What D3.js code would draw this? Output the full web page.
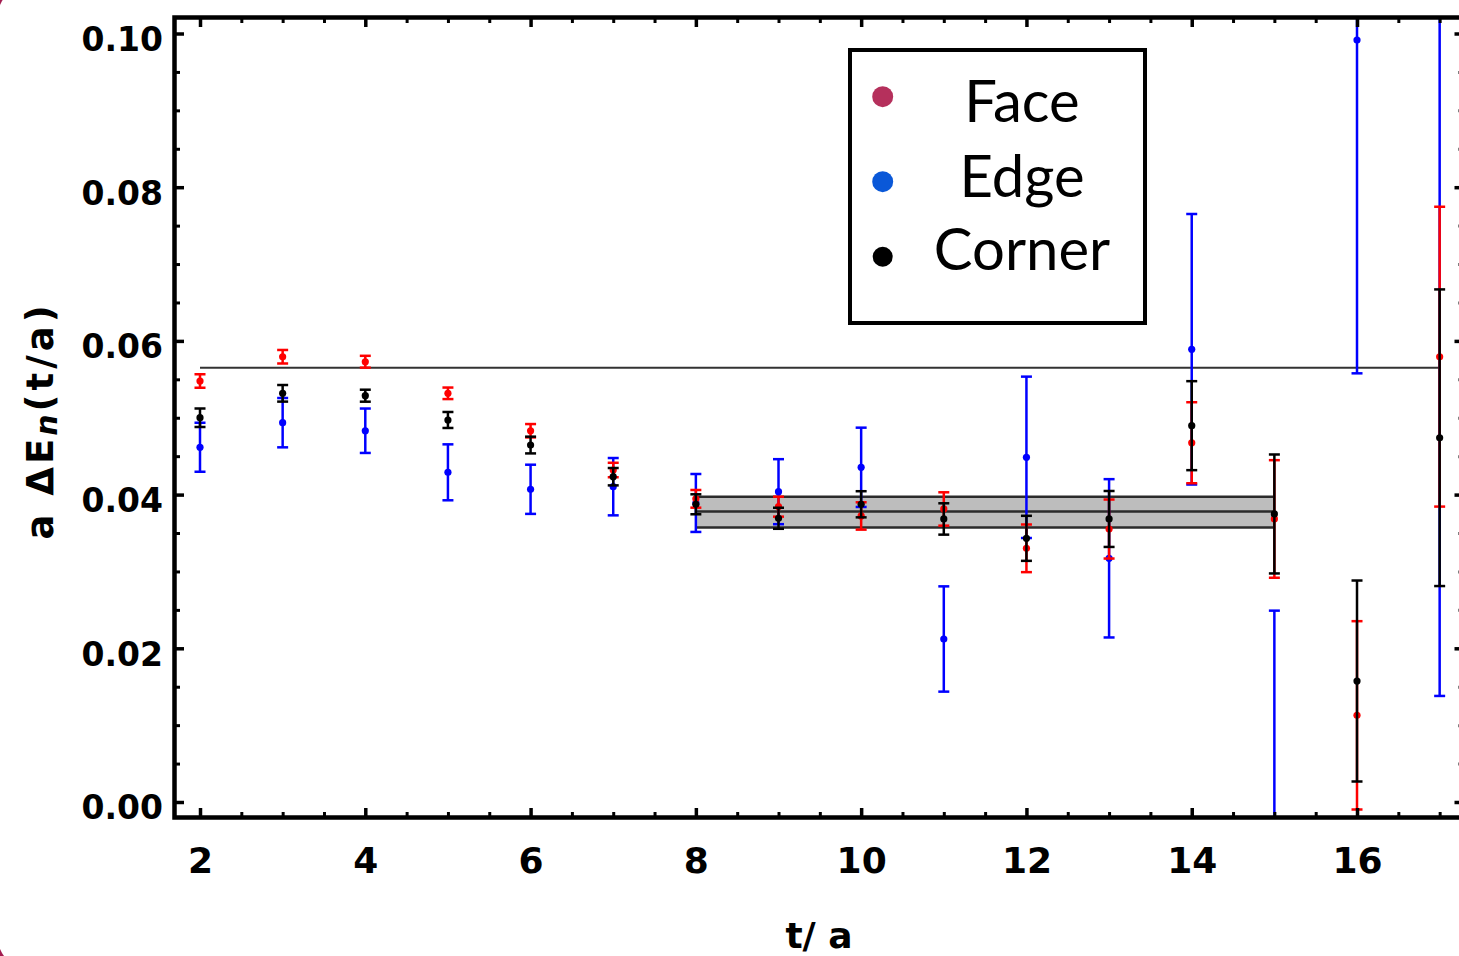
<!DOCTYPE html>
<html><head><meta charset="utf-8">
<script src="https://cdn.jsdelivr.net/npm/d3@7"></script>
<style>body{margin:0;background:#fff;} svg{display:block;}</style>
</head><body>
<svg id="c" width="1459" height="956"></svg>
<script>
// ---------- data ----------
const tValues = [2,3,4,5,6,7,8,9,10,11,12,13,14,15,16,17];
const faceValues  = [0.05478,0.05794,0.05729,0.05318,0.04831,0.0432,0.03945,0.03843,0.03722,0.03813,0.03301,0.03552,0.04675,0.03683,0.01128,0.05794];
const faceErrors  = [0.00087,0.00088,0.00077,0.00075,0.00087,0.00094,0.00115,0.0013,0.00178,0.00217,0.0031,0.00384,0.00527,0.00765,0.01225,0.0195];
const edgeValues  = [0.04616,0.04936,0.04831,0.0429,0.04069,0.04103,0.03891,0.04038,0.04355,0.02121,0.04485,0.03171,0.05891,-0.005,0.09915,0.105];
const edgeErrors  = [0.00319,0.00321,0.00289,0.00364,0.0032,0.00373,0.00377,0.00423,0.00516,0.00685,0.0105,0.0103,0.0176,0.0299,0.04337,0.0912];
const cornerValues = [0.05001,0.05318,0.05287,0.04971,0.04645,0.04233,0.03874,0.03692,0.03874,0.03683,0.03431,0.03683,0.04897,0.03748,0.01574,0.0474];
const cornerErrors = [0.0012,0.00108,0.00078,0.00104,0.00109,0.00113,0.0013,0.00137,0.0017,0.00204,0.00293,0.00364,0.00579,0.00774,0.01308,0.0193];
const plateauRange = [2, 17];
const plateauValue = 0.05651;
const fitRange = [8, 15];
const fitCentral = 0.03781, fitUpper = 0.03973, fitLower = 0.03573;
const xTickValues = [2,4,6,8,10,12,14,16];
const yTickValues = [0.00,0.02,0.04,0.06,0.08,0.10];
const legendLabels = ["Face","Edge","Corner"];
const legendColors = ["#b5305c","#0a58d8","#000000"];
const seriesColors = {face:"#ff0000", edge:"#0000ff", corner:"#000000"};

// ---------- layout ----------
const svg = d3.select("#c");
const L = 174.5, R = 1464, T = 17.5, B = 817.5;
const x = d3.scaleLinear().domain([1.6914, 17.2946]).range([L, R]);
const y = d3.scaleLinear().domain([-0.002017, 0.102082]).range([B, T]);

// slide background corners
svg.append("rect").attr("x",0).attr("y",0).attr("width",1459).attr("height",956).attr("fill","#a31d50");
svg.append("rect").attr("x",-2).attr("y",-14).attr("width",1520).attr("height",982).attr("rx",30).attr("fill","#fff");

svg.append("defs").append("clipPath").attr("id","clip")
  .append("rect").attr("x",L).attr("y",T).attr("width",R-L).attr("height",B-T);

const plot = svg.append("g").attr("clip-path","url(#clip)");

// fit band
plot.append("rect")
  .attr("x", x(fitRange[0])).attr("width", x(fitRange[1]) - x(fitRange[0]))
  .attr("y", y(fitUpper)).attr("height", y(fitLower) - y(fitUpper))
  .attr("fill","#bdbdbd");
[fitUpper, fitCentral, fitLower].forEach(v => {
  plot.append("line").attr("x1", x(fitRange[0])).attr("x2", x(fitRange[1]))
    .attr("y1", y(v)).attr("y2", y(v)).attr("stroke","#2b2b2b").attr("stroke-width",2.5);
});
// plateau line
plot.append("line").attr("x1", x(plateauRange[0])).attr("x2", x(plateauRange[1]))
  .attr("y1", y(plateauValue)).attr("y2", y(plateauValue)).attr("stroke","#333").attr("stroke-width",2);

// error bars
function drawSeries(vals, errs, color) {
  const data = tValues.map((t,i) => ({t, v: vals[i], e: errs[i]}));
  const g = plot.append("g");
  const cap = 5.5;
  const s = g.selectAll("g").data(data).enter().append("g");
  s.append("line").attr("x1", d => x(d.t)).attr("x2", d => x(d.t))
    .attr("y1", d => y(d.v + d.e)).attr("y2", d => y(d.v - d.e))
    .attr("stroke", color).attr("stroke-width", 2.5);
  s.append("line").attr("x1", d => x(d.t) - cap).attr("x2", d => x(d.t) + cap)
    .attr("y1", d => y(d.v + d.e)).attr("y2", d => y(d.v + d.e))
    .attr("stroke", color).attr("stroke-width", 2.5);
  s.append("line").attr("x1", d => x(d.t) - cap).attr("x2", d => x(d.t) + cap)
    .attr("y1", d => y(d.v - d.e)).attr("y2", d => y(d.v - d.e))
    .attr("stroke", color).attr("stroke-width", 2.5);
  s.append("circle").attr("cx", d => x(d.t)).attr("cy", d => y(d.v)).attr("r", 3.6).attr("fill", color);
}
drawSeries(edgeValues, edgeErrors, seriesColors.edge);
drawSeries(faceValues, faceErrors, seriesColors.face);
drawSeries(cornerValues, cornerErrors, seriesColors.corner);

// axes (ticks inward)
const xMinor = d3.range(1.5, 17.3, 0.5).filter(v => v >= 1.7 && !xTickValues.includes(v));
const yMinor = d3.range(0, 0.1021, 0.005).map(v => +v.toFixed(3)).filter(v => !yTickValues.some(t => Math.abs(t - v) < 1e-9));

function styleAxis(g, w) {
  g.select(".domain").remove();
  g.selectAll(".tick line").attr("stroke","#000").attr("stroke-width", w);
}
// bottom
svg.append("g").attr("transform",`translate(0,${B})`)
  .call(d3.axisBottom(x).tickValues(xMinor).tickSize(-5.5).tickFormat(""))
  .call(g => styleAxis(g, 3));
const bx = svg.append("g").attr("transform",`translate(0,${B})`)
  .call(d3.axisBottom(x).tickValues(xTickValues).tickSize(-9.5).tickFormat(d3.format("d")))
  .call(g => styleAxis(g, 3.5));
bx.selectAll(".tick text").attr("y", 55.5).attr("dy", 0)
  .attr("font-family","DejaVu Sans").attr("font-weight","bold").attr("font-size",36).attr("fill","#000");
// top
svg.append("g").attr("transform",`translate(0,${T})`)
  .call(d3.axisTop(x).tickValues(xMinor).tickSize(-5.5).tickFormat(""))
  .call(g => styleAxis(g, 3));
svg.append("g").attr("transform",`translate(0,${T})`)
  .call(d3.axisTop(x).tickValues(xTickValues).tickSize(-9.5).tickFormat(""))
  .call(g => styleAxis(g, 3.5));
// left
svg.append("g").attr("transform",`translate(${L},0)`)
  .call(d3.axisLeft(y).tickValues(yMinor).tickSize(-5.5).tickFormat(""))
  .call(g => styleAxis(g, 3));
const ly = svg.append("g").attr("transform",`translate(${L},0)`)
  .call(d3.axisLeft(y).tickValues(yTickValues).tickSize(-9.5).tickFormat(d3.format(".2f")))
  .call(g => styleAxis(g, 3.5));
ly.selectAll(".tick text").attr("x", -11.5).attr("y", 5).attr("dy","0.36em")
  .attr("font-family","DejaVu Sans").attr("font-weight","bold").attr("font-size",33).attr("fill","#000");
// right
svg.append("g").attr("transform",`translate(${R},0)`)
  .call(d3.axisRight(y).tickValues(yMinor).tickSize(-5.5).tickFormat(""))
  .call(g => styleAxis(g, 3));
svg.append("g").attr("transform",`translate(${R},0)`)
  .call(d3.axisRight(y).tickValues(yTickValues).tickSize(-9.5).tickFormat(""))
  .call(g => styleAxis(g, 3.5));

// frame
svg.append("rect").attr("x",L).attr("y",T).attr("width",R-L).attr("height",B-T)
  .attr("fill","none").attr("stroke","#000").attr("stroke-width",4.5);

// axis titles
svg.append("text").attr("x", 819).attr("y", 948).attr("text-anchor","middle")
  .attr("font-family","DejaVu Sans").attr("font-weight","bold").attr("font-size",36)
  .text("t/ a");
const yt = svg.append("text").attr("transform","translate(53,420.5) rotate(-90)")
  .attr("text-anchor","middle").attr("letter-spacing",3)
  .attr("font-family","DejaVu Sans").attr("font-weight","bold").attr("font-size",37);
yt.append("tspan").text("a  ΔE");
yt.append("tspan").attr("font-style","italic").attr("font-size",30).attr("dy",4).text("n");
yt.append("tspan").attr("dy",-4).attr("letter-spacing",4).text("(t/a)");

// legend
svg.append("rect").attr("x",850).attr("y",50).attr("width",295).attr("height",273)
  .attr("fill","#fff").attr("stroke","#000").attr("stroke-width",4);
const legY = [96.7, 181.7, 256.7];
const legBase = [121.5, 196.5, 270];
const lg = svg.append("g");
legendLabels.forEach((lab, i) => {
  lg.append("circle").attr("cx", 882.7).attr("cy", legY[i]).attr("r", i === 2 ? 10 : 10.5).attr("fill", legendColors[i]);
  lg.append("text").attr("x", 1022).attr("y", legBase[i]).attr("text-anchor","middle")
    .attr("font-family","Lato").attr("font-size",58).attr("fill","#000").text(lab);
});
</script>
</body></html>
